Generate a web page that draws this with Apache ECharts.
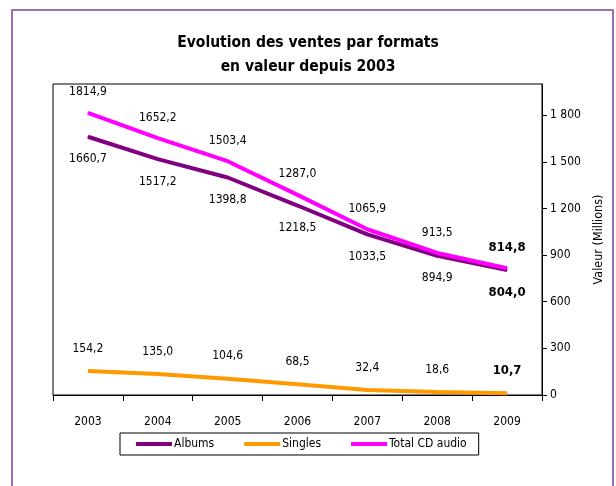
<!DOCTYPE html>
<html>
<head>
<meta charset="utf-8">
<script src="https://cdn.jsdelivr.net/npm/echarts@6/dist/echarts.min.js"></script>
<style>
  html, body { margin: 0; padding: 0; background: #fff; }
  #gh { width: 616px; height: 486px; }
</style>
</head>
<body>
<div id="gh"></div>
<script>
var years = ['2003', '2004', '2005', '2006', '2007', '2008', '2009'];
var albums = [1660.7, 1517.2, 1398.8, 1218.5, 1033.5, 894.9, 804.0];
var singles = [154.2, 135.0, 104.6, 68.5, 32.4, 18.6, 10.7];
var totalCD = [1814.9, 1652.2, 1503.4, 1287.0, 1065.9, 913.5, 814.8];
var yTicks = [0, 300, 600, 900, 1200, 1500, 1800];

var font = '"Liberation Sans Narrow", "DejaVu Sans Condensed", "Roboto Condensed", "Liberation Sans", sans-serif';

var dom = document.getElementById('gh');
var myChart = echarts.init(dom);

// virgule décimale, dernier point en gras
function toData(arr) {
  return arr.map(function (v, i) {
    var d = { value: v };
    if (i === arr.length - 1) d.label = { fontWeight: 'bold', fontSize: 13 };
    return d;
  });
}
function fmt(p) {
  return p.value.toFixed(1).replace('.', ',');
}

function serie(name, arr, color, pos, dist) {
  return {
    name: name,
    type: 'line',
    data: toData(arr),
    symbol: 'circle',
    symbolSize: 1,
    itemStyle: { color: color },
    lineStyle: { color: color, width: 4 },
    label: {
      show: true,
      position: pos,
      distance: dist,
      formatter: fmt,
      color: '#000',
      fontSize: 12,
      fontFamily: font
    }
  };
}

var option = {
  animation: false,
  backgroundColor: '#fff',
  textStyle: { fontFamily: font },
  graphic: [
    {
      type: 'rect',
      shape: { x: 12, y: 10, width: 601, height: 490 },
      style: { fill: 'none', stroke: '#9a6fb8', lineWidth: 2 },
      z: -1
    }
  ],
  title: {
    text: 'Evolution des ventes par formats\nen valeur depuis 2003',
    left: 'center',
    top: 26,
    textStyle: {
      fontSize: 15.5,
      fontWeight: 'bold',
      color: '#000',
      lineHeight: 24,
      fontFamily: font
    }
  },
  legend: {
    left: 120,
    top: 433,
    padding: [5, 12, 5, 16],
    itemGap: 30,
    itemWidth: 36,
    itemHeight: 4,
    icon: 'rect',
    borderColor: '#000',
    borderWidth: 1,
    selectedMode: false,
    data: ['Albums', 'Singles', 'Total CD audio'],
    textStyle: { color: '#000', fontSize: 12, fontFamily: font, padding: [0, 0, 0, -3] }
  },
  grid: {
    left: 53,
    right: 74,
    top: 84,
    bottom: 91,
    show: true,
    borderColor: '#000',
    borderWidth: 1
  },
  xAxis: {
    type: 'category',
    data: years,
    boundaryGap: true,
    axisLine: { lineStyle: { color: '#000', width: 1 } },
    axisTick: { show: true, length: 6, alignWithLabel: false, lineStyle: { color: '#000' } },
    axisLabel: { color: '#000', fontSize: 12, margin: 21, fontFamily: font }
  },
  yAxis: {
    type: 'value',
    position: 'right',
    min: 0,
    max: 2000,
    interval: 300,
    name: 'Valeur (Millions)',
    nameLocation: 'middle',
    nameRotate: 90,
    nameGap: 48,
    nameTextStyle: { color: '#000', fontSize: 12.5, fontFamily: font },
    splitLine: { show: false },
    axisLine: { show: true, lineStyle: { color: '#000', width: 1 } },
    axisTick: { show: true, length: 5, lineStyle: { color: '#000' }, customValues: yTicks },
    axisLabel: {
      color: '#000',
      fontSize: 12,
      margin: 8,
      fontFamily: font,
      customValues: yTicks,
      formatter: function (v) {
        return String(v).replace(/\B(?=(\d{3})+(?!\d))/g, ' ');
      }
    }
  },
  series: [
    serie('Albums', albums, '#800080', 'bottom', 16),
    serie('Singles', singles, '#ff9900', 'top', 16),
    serie('Total CD audio', totalCD, '#ff00ff', 'top', 14)
  ]
};

myChart.setOption(option);
</script>
</body>
</html>
